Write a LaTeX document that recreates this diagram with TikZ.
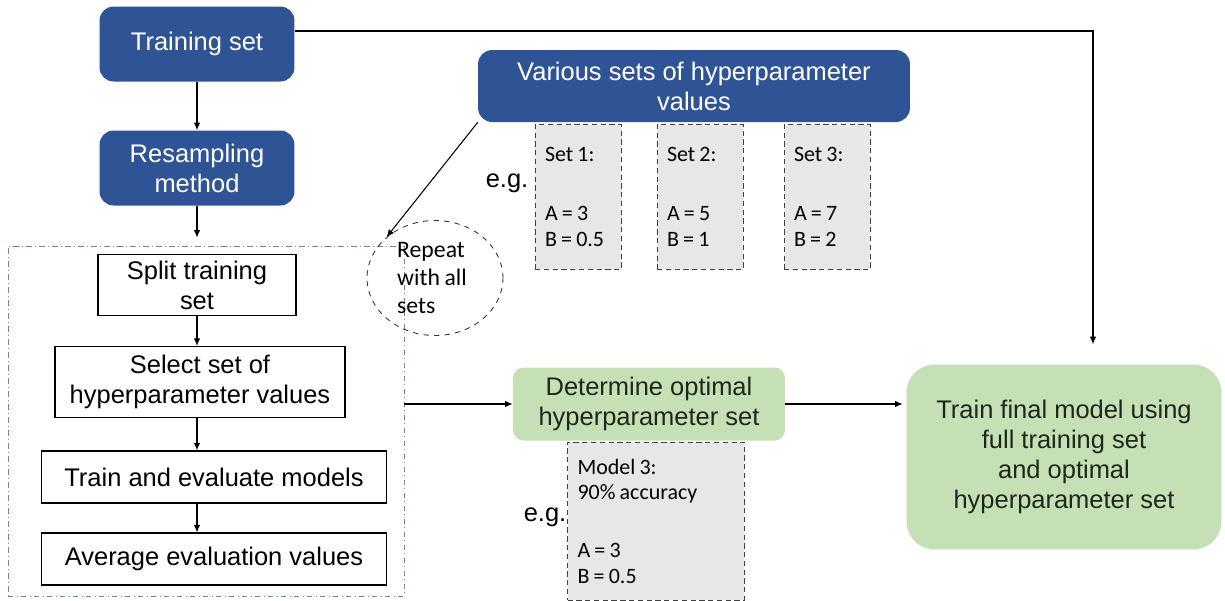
\documentclass[tikz,border=0pt]{standalone}
\usepackage{fontspec}
\setmainfont{Liberation Sans}
\newfontfamily\notefont[WordSpace=0.85]{Carlito}
\usetikzlibrary{arrows.meta,shapes.geometric}

\definecolor{boxblue}{RGB}{47,84,150}
\definecolor{boxgreen}{RGB}{197,224,180}
\definecolor{greentext}{RGB}{28,40,28}
\definecolor{notegray}{RGB}{231,231,231}
\definecolor{framecol}{RGB}{110,132,178}

\begin{document}
\begin{tikzpicture}[
	x=0.02cm, y=-0.02cm,
	mainfont/.style={font=\fontsize{14.5}{17}\selectfont},
	bluebox/.style={
		mainfont,
		align=center,
		rounded corners=8pt,
		fill=boxblue,
		text=white
	},
	greenbox/.style={
		mainfont,
		align=center,
		fill=boxgreen,
		text=greentext
	},
	stepbox/.style={mainfont, align=center, draw=black, line width=0.7pt},
	notebox/.style={
		font=\notefont\fontsize{12.5}{14.5}\selectfont,
		align=flush left,
		fill=notegray,
		draw=black!75,
		densely dashed,
		line width=0.4pt,
		inner xsep=0.2cm
	},
	loopframe/.style={draw=framecol, dash dot, line width=0.5pt},
	repeatloop/.style={draw=black!80, dashed, line width=0.5pt, ellipse},
	arr/.style={-{Latex[length=1.5mm,width=1.3mm]}, line width=0.6pt},
]

\useasboundingbox (0,0) rectangle (1225,600);

% top left: data and resampling
\node[bluebox, minimum width=3.9cm, minimum height=1.5cm] (tset) at (197,44) {Training set};
\node[bluebox, minimum width=3.9cm, minimum height=1.5cm] (resamp) at (197,168) {Resampling\\method};

% inner loop
\node[loopframe, minimum width=7.92cm, minimum height=7cm] (loop) at (206,421) {};
\node[stepbox, minimum width=3.96cm, minimum height=1.22cm] (split) at (197,285) {Split training\\set};
\node[stepbox, minimum width=5.8cm, minimum height=1.42cm] (select) at (200,382) {Select set of\\hyperparameter values};
\node[stepbox, minimum width=6.9cm, minimum height=1.04cm] (traineval) at (214,477) {Train and evaluate models};
\node[stepbox, minimum width=6.9cm, minimum height=1.04cm] (average) at (214,559) {Average evaluation values};

\draw[arr] (tset.south) -- (resamp.north);
\draw[arr, shorten >=0.16cm] (resamp.south) -- (resamp.south |- loop.north);
\foreach \a/\b in {split/select, select/traineval, traineval/average} {
	\draw[arr] (split.south |- \a.south) -- (split.south |- \b.north);
}

% hyperparameter sets
\node[bluebox, minimum width=8.64cm, minimum height=1.44cm] (varsets) at (694,86) {Various sets of hyperparameter\\values};
\foreach \i/\x/\a/\b in {1/578/3/0.5, 2/700/5/1, 3/827/7/2} {
	\node[notebox, minimum width=1.72cm, minimum height=2.9cm, text width=1.32cm] (set\i) at (\x,197)
		{Set \i:\\[19pt]A = \a\\B = \b};
}
\node[mainfont] (eg1) at (507,183) {e.g.};

% repeat marker
\node[repeatloop, minimum width=2.72cm, minimum height=2.3cm] (repeat) at (435,278) {};
\node[font=\notefont\fontsize{13.5}{16}\selectfont, align=left] (repeattxt) at (432,278) {Repeat\\with all\\sets};
\draw[arr] (varsets.south west) -- (repeat.north west);

% optimal set and final model
\node[greenbox, rounded corners=6pt, minimum width=5.44cm, minimum height=1.46cm] (opt) at (649,404) {Determine optimal\\hyperparameter set};
\node[notebox, minimum width=3.54cm, minimum height=3.16cm, text width=3.14cm] (model) at (656,521)
	{Model 3:\\90\% accuracy\\[18.5pt]A = 3\\B = 0.5};
\node[mainfont] (eg2) at (545,517) {e.g.};
\node[greenbox, rounded corners=16pt, minimum width=6.3cm, minimum height=3.7cm] (final) at (1064,457)
	{Train final model using\\full training set\\and optimal\\hyperparameter set};

\draw[arr] (loop.east |- opt.west) -- (opt.west);
\draw[arr, shorten >=2pt] (opt.east) -- (opt.east -| final.west);
\draw[arr, shorten >=0.4cm] ([yshift=0.26cm]tset.east) -| ([xshift=0.58cm]final.north);

\end{tikzpicture}
\end{document}
